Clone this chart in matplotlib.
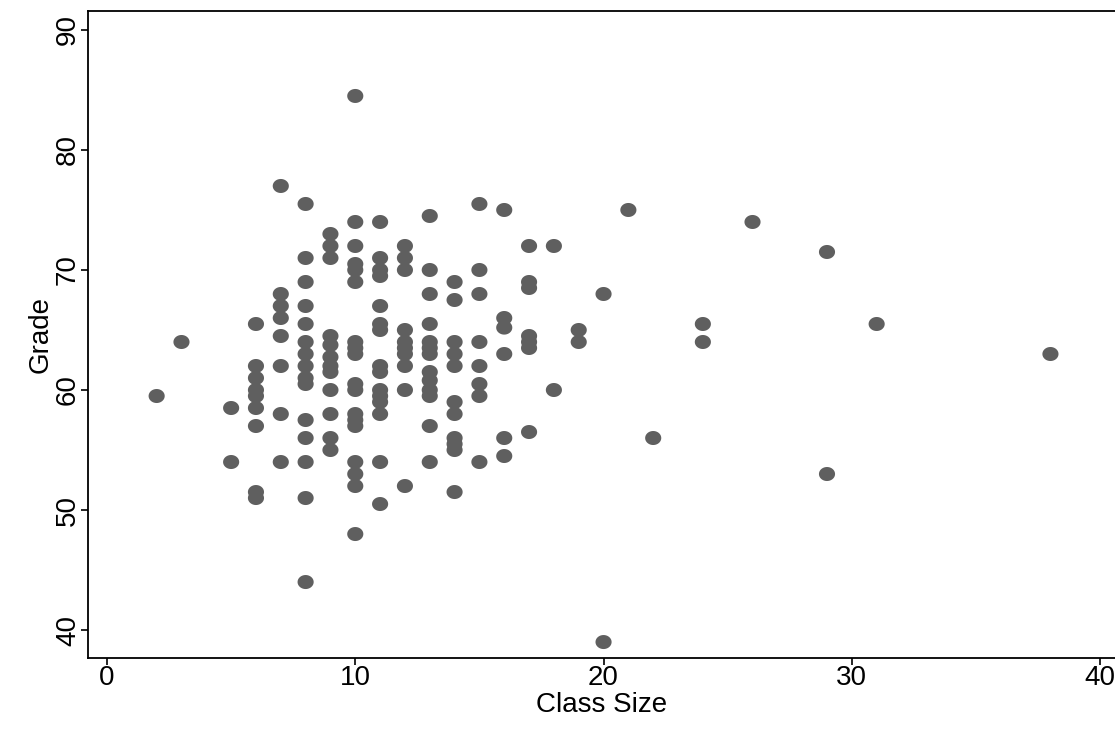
import numpy as np
import matplotlib
matplotlib.use('Agg')
import matplotlib.pyplot as plt
from matplotlib.path import Path

# class size -> grades
class_size = ([2] + [3] + [5]*2 + [6]*9 + [7]*8 + [8]*15 + [9]*12 + [10]*18 +
              [11]*15 + [12]*10 + [13]*13 + [14]*11 + [15]*8 + [16]*6 + [17]*7 +
              [18]*2 + [19]*2 + [20]*2 + [21] + [22] + [24]*2 + [26] + [29]*2 +
              [31] + [38])
grade = [59.5,
         64,
         58.5, 54,
         65.5, 62, 61, 60, 59.5, 58.5, 57, 51.5, 51,
         77, 68, 67, 66, 64.5, 62, 58, 54,
         75.5, 71, 69, 67, 65.5, 64, 63, 62, 61, 60.5, 57.5, 56, 54, 51, 44,
         73, 72, 71, 64.5, 63.75, 62.75, 62, 61.5, 60, 58, 56, 55,
         84.5, 74, 72, 70.5, 70, 69, 64, 63.5, 63, 60.5, 60, 58, 57.5, 57, 54, 53, 52, 48,
         74, 71, 70, 69.5, 67, 65.5, 65, 62, 61.5, 60, 59.5, 59, 58, 54, 50.5,
         72, 71, 70, 65, 64, 63.5, 63, 62, 60, 52,
         74.5, 70, 68, 65.5, 64, 63.5, 63, 61.5, 60.8, 60, 59.5, 57, 54,
         69, 67.5, 64, 63, 62, 59, 58, 56, 55.5, 55, 51.5,
         75.5, 70, 68, 64, 62, 60.5, 59.5, 54,
         75, 66, 65.2, 63, 56, 54.5,
         72, 69, 68.5, 64.5, 64, 63.5, 56.5,
         72, 60,
         65, 64,
         68, 39,
         75,
         56,
         65.5, 64,
         74,
         71.5, 53,
         65.5,
         63]

x_ticks = [0, 10, 20, 30, 40]
y_ticks = [40, 50, 60, 70, 80, 90]

plt.rcParams['font.family'] = ['Liberation Sans', 'DejaVu Sans']

# slightly flattened circle, like the original dots
t = np.linspace(0, 2*np.pi, 40)
ell = Path(np.column_stack([np.cos(t), 0.87*np.sin(t)]), closed=True)

fig = plt.figure(figsize=(11.15, 7.35), dpi=100)
ax = fig.add_axes([88/1115, 77/735, 1 - 88/1115, 647/735])
ax.scatter(class_size, grade, marker=ell, s=135, color='#5f5f5f',
           edgecolors='none', zorder=3)

ax.set_xlim(-0.765, 40.6)
ax.set_ylim(37.67, 91.58)
ax.set_xticks(x_ticks)
ax.set_yticks(y_ticks)
ax.tick_params(axis='both', direction='out', length=5, width=1.2,
               labelsize=20, colors='black', pad=0)
for lab in ax.get_yticklabels():
    lab.set_rotation(90)
    lab.set_va('center')
ax.spines['right'].set_visible(False)
for s in ['left', 'bottom', 'top']:
    ax.spines[s].set_linewidth(1.3)

ax.set_xlabel('Class Size', fontsize=20, labelpad=1)
ax.set_ylabel('Grade', fontsize=20, labelpad=1)

plt.savefig('out.png', dpi=100)
